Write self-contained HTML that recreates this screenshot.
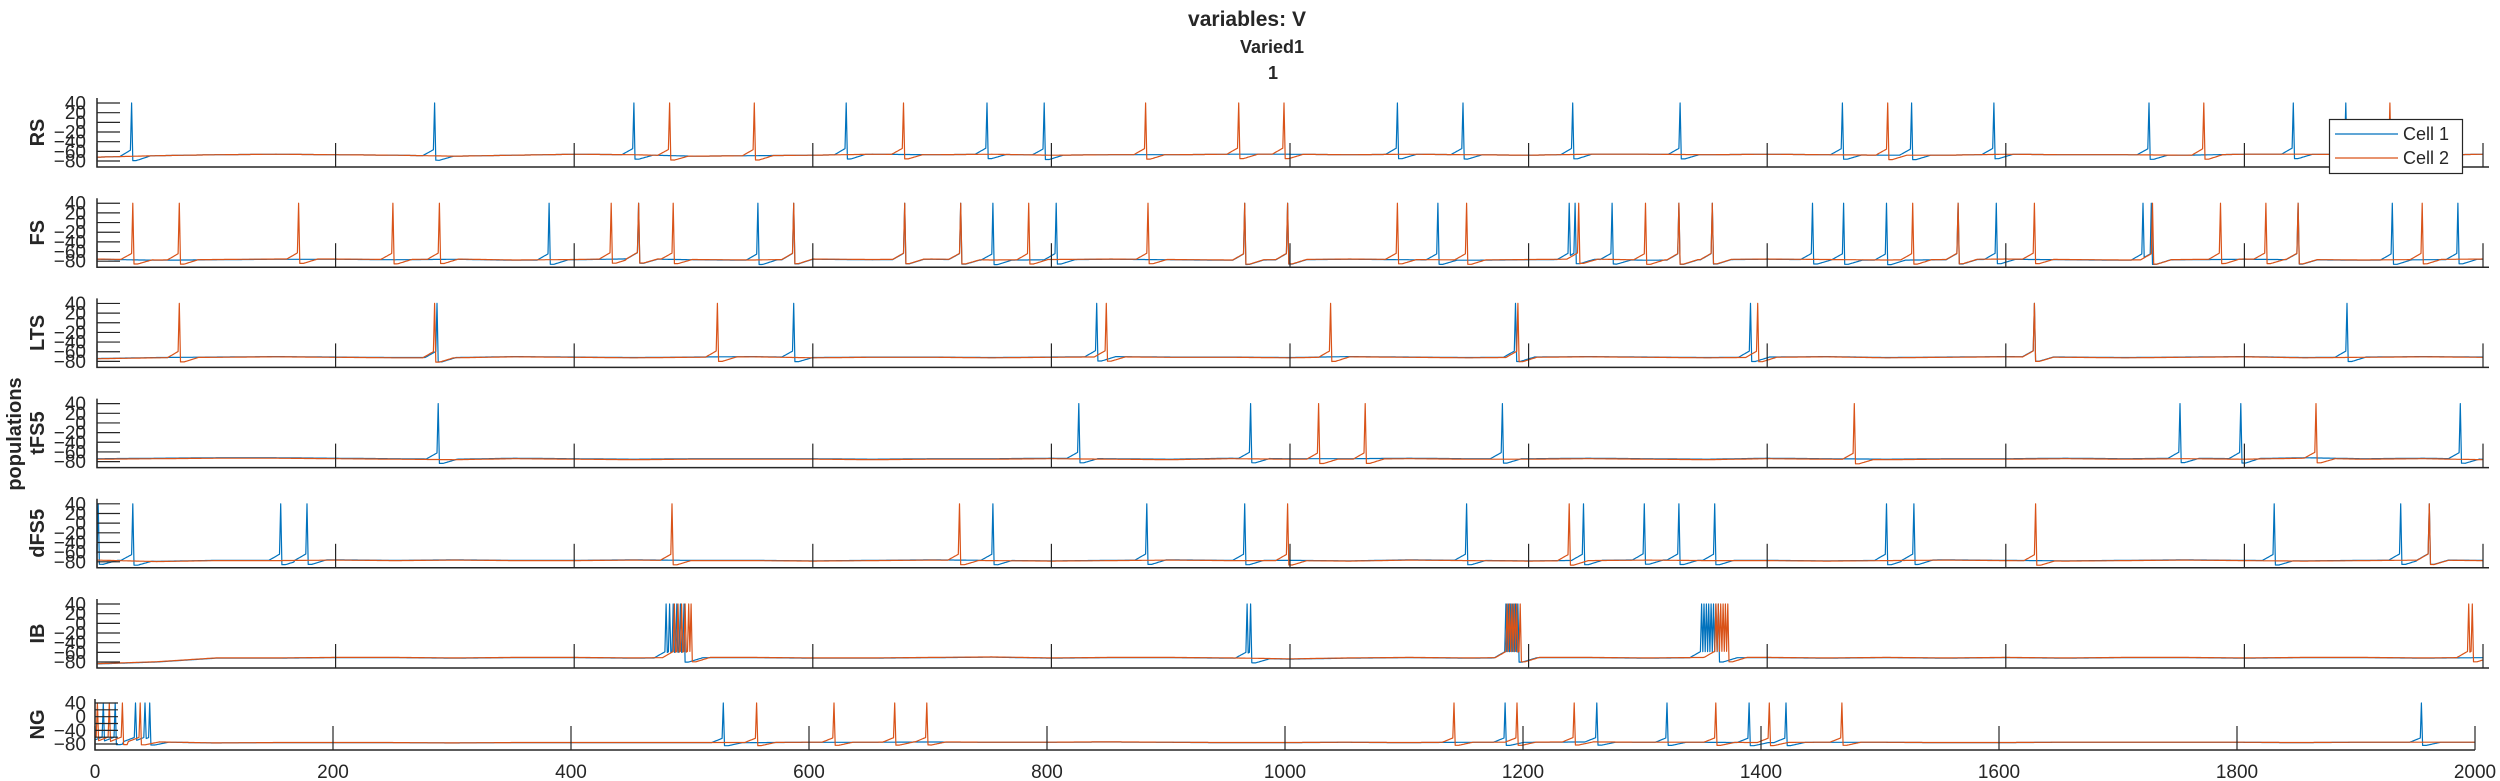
<!DOCTYPE html>
<html><head><meta charset="utf-8"><title>variables: V</title>
<style>
html,body{margin:0;padding:0;background:#fff;}
svg{display:block;}
text{font-family:"Liberation Sans",Arial,sans-serif;fill:#262626;}
</style></head>
<body>
<svg id="chart" width="2500" height="781" viewBox="0 0 2500 781" xmlns="http://www.w3.org/2000/svg">
<rect x="0" y="0" width="2500" height="781" fill="#fff"/>
<text x="1247" y="26" text-anchor="middle" font-size="21" font-weight="bold" fill="#000">variables: V</text>
<text x="1272" y="53" text-anchor="middle" font-size="18" font-weight="bold" fill="#000">Varied1</text>
<text x="1273" y="79" text-anchor="middle" font-size="18" font-weight="bold" fill="#000">1</text>
<text transform="translate(21,434) rotate(-90)" text-anchor="middle" font-size="20" font-weight="bold" fill="#000">populations</text>
<g id="panels"></g>
<g id="legend">
  <rect x="2329.5" y="119.5" width="133" height="54" fill="#fff" stroke="#262626" stroke-width="1.2"/>
  <line x1="2335" y1="134" x2="2398" y2="134" stroke="#0072BD" stroke-width="1.3"/>
  <text x="2403" y="140" font-size="18" fill="#000">Cell 1</text>
  <line x1="2335" y1="158" x2="2398" y2="158" stroke="#D95319" stroke-width="1.3"/>
  <text x="2403" y="164" font-size="18" fill="#000">Cell 2</text>
</g>
</svg>
<script>
// ---- data ----
const populations = ["RS","FS","LTS","tFS5","dFS5","IB","NG"];
const xTicks = [0,200,400,600,800,1000,1200,1400,1600,1800,2000];
const yTicksUpper = [40,20,0,-20,-40,-60,-80];
const yTicksNG = [40,0,-40,-80];
// baseline membrane potential every 50 ms (0..2000)
const baseRS  = [-72,-69,-67,-66,-67,-68,-70,-68,-66,-67,-70,-69,-68,-66,-67,-66,-68,-67,-67,-66,-66,-67,-66,-67,-68,-66,-66,-67,-66,-67,-68,-68,-66,-67,-67,-68,-66,-66,-67,-68,-66];
const baseFS  = [-76,-78,-77,-76,-76,-77,-76,-78,-77,-75,-77,-78,-76,-77,-76,-78,-77,-76,-77,-78,-77,-76,-77,-78,-77,-76,-78,-77,-76,-77,-78,-77,-76,-77,-78,-77,-76,-77,-78,-77,-76];
const baseLTS = [-74,-72,-71,-70,-71,-72,-72,-70,-71,-72,-71,-70,-72,-71,-71,-72,-71,-70,-71,-71,-72,-70,-71,-72,-71,-70,-71,-72,-71,-70,-72,-71,-70,-71,-72,-71,-70,-72,-71,-70,-71];
const baseTFS = [-74,-73,-72,-72,-73,-74,-75,-73,-74,-75,-74,-74,-74,-75,-74,-74,-73,-74,-75,-73,-74,-74,-73,-74,-74,-73,-74,-75,-73,-74,-75,-74,-74,-73,-74,-73,-74,-72,-74,-73,-75];
const baseDFS = [-76,-79,-77,-77,-76,-77,-76,-77,-77,-76,-77,-77,-78,-77,-76,-77,-78,-77,-76,-77,-77,-78,-76,-77,-78,-77,-76,-77,-77,-78,-77,-76,-77,-78,-77,-76,-77,-78,-77,-76,-77];
const baseIB  = [-84,-80,-72,-72,-71,-71,-72,-71,-71,-72,-71,-71,-72,-72,-71,-70,-72,-71,-71,-72,-74,-72,-71,-72,-71,-71,-72,-71,-71,-72,-71,-72,-71,-72,-71,-71,-72,-71,-71,-72,-71];
const baseNG  = [-72,-74,-77,-76,-76,-76,-77,-76,-76,-76,-76,-76,-75,-75,-74,-75,-75,-74,-75,-76,-76,-75,-76,-75,-75,-74,-75,-75,-76,-75,-75,-76,-76,-75,-75,-75,-75,-76,-75,-75,-75];
const cell2Offset = [0,0.5,-0.5,-1,-0.5,0.5,0.3];
// spike times (ms)
const spikesRS1  = [29,283,450,628,746,794,1145,1090,1237,1327,1463,1521,1590,1720,1841,1885];
const spikesRS2  = [480,551,676,879,957,995,1501,1766,1922];
const spikesFS1  = [379,454,554,584,677,724,751,804,962,998,1124,1234,1239,1270,1326,1354,1438,1464,1500,1560,1592,1715,1722,1845,1924,1979];
const spikesFS2  = [30,69,169,248,287,431,454,483,584,677,724,781,881,962,998,1090,1148,1242,1298,1326,1354,1522,1560,1624,1723,1780,1818,1845,1949];
const spikesLTS1 = [285,584,838,1189,1386,1624,1886];
const spikesLTS2 = [69,283,520,846,1034,1191,1392,1624];
const spikesTFS1 = [286,823,967,1178,1746,1797,1981];
const spikesTFS2 = [1024,1063,1473,1860];
const spikesDFS1 = [1,30,154,176,751,880,962,1148,1246,1297,1326,1356,1500,1523,1825,1931,1955];
const spikesDFS2 = [482,723,998,1234,1625,1955];
const spikesIB1  = [477,480,483,486,489,492,964,967,1181,1183,1185,1187,1189,1191,1345,1347,1349,1351,1353,1355,1357,1359];
const spikesIB2  = [484,487,490,493,496,498,1182,1184,1186,1188,1190,1193,1357,1359,1361,1363,1365,1367,1988,1991];
const spikesNG1  = [7,17,34,42,46,528,1185,1262,1321,1390,1421,1955];
const spikesNG2  = [2,12,23,38,556,621,672,699,1142,1195,1243,1362,1407,1468];

const baselines = [baseRS,baseFS,baseLTS,baseTFS,baseDFS,baseIB,baseNG];
const spikes1 = [spikesRS1,spikesFS1,spikesLTS1,spikesTFS1,spikesDFS1,spikesIB1,spikesNG1];
const spikes2 = [spikesRS2,spikesFS2,spikesLTS2,spikesTFS2,spikesDFS2,spikesIB2,spikesNG2];

// ---- layout ----
const NS = "http://www.w3.org/2000/svg";
const root = document.getElementById("panels");
function mk(tag, attrs, parent){
  const e = document.createElementNS(NS, tag);
  for (const k in attrs) e.setAttribute(k, attrs[k]);
  parent.appendChild(e);
  return e;
}
const panelTops = [98,198.2,298.4,398.6,498.8,599,699];
const panelBottoms = [167,267.2,367.4,467.6,567.8,668,750];

function buildTrace(base, spk, off){
  const v = [];
  for (let t = 0; t <= 2000; t++){
    const i = Math.min(39, Math.floor(t/50));
    const f = (t - i*50)/50;
    v.push(base[i]*(1-f) + base[i+1]*f + off);
  }
  const out = v.slice();
  spk.forEach(s => {
    for (let t = Math.max(0,s-10); t < s; t++) out[t] = Math.max(out[t], v[t] + 14*(1-(s-t)/10));
    for (let t = s+1; t <= Math.min(2000,s+16); t++){
      const d = t - s;
      const dip = d <= 4 ? -9 : -9*(1-(d-4)/12);
      out[t] = Math.min(out[t], v[t] + dip);
    }
  });
  spk.forEach(s => { if (s>=0 && s<=2000) out[s] = 40; });
  return out;
}

populations.forEach((name, p) => {
  const isNG = p === 6;
  const g = mk("g", {}, root);
  
  
  const top = panelTops[p], bot = panelBottoms[p];
  const x0 = isNG ? 95 : 97, kx = isNG ? 1.19 : 1.193;
  const yMin = isNG ? -97.5 : -92.4, yMax = isNG ? 51.7 : 50.4;
  const xs = t => x0 + t*kx;
  const ys = v => bot - (Math.min(yMax, Math.max(yMin, v)) - yMin) * (bot-top)/(yMax-yMin);
  const xEnd = xs(2000) + (isNG ? 0 : 6);

  // traces
  [1,2].forEach(c => {
    const tr = buildTrace(baselines[p], c===1 ? spikes1[p] : spikes2[p], c===1 ? 0 : cell2Offset[p]);
    let d = "";
    for (let t = 0; t <= 2000; t++) d += (t ? " L" : "M") + xs(t).toFixed(1) + " " + ys(tr[t]).toFixed(1);
    const path = mk("path", {d: d, fill: "none", stroke: c===1 ? "#0072BD" : "#D95319", "stroke-width": 1.2, "stroke-linejoin": "round"}, g);
    
    
  });

  // axes
  const ax = mk("path", {d: `M${x0} ${top} L${x0} ${bot} L${xEnd} ${bot}`, fill: "none", stroke: "#262626", "stroke-width": 1.5}, g);
  
  
  xTicks.forEach(t => {
    const tk = mk("line", {x1: xs(t), x2: xs(t), y1: bot, y2: bot-24, stroke: "#262626", "stroke-width": 1.2}, g);
    
    
    if (isNG){
      const lb = mk("text", {x: xs(t), y: 778, "text-anchor": "middle", "font-size": 19}, g);
      lb.textContent = t;
      
      
    }
  });
  yTicksUpper.forEach(v => {
    const tk = mk("line", {x1: x0, x2: x0+23, y1: ys(v), y2: ys(v), stroke: "#262626", "stroke-width": 1.2}, g);
    
    
  });
  (isNG ? yTicksNG : yTicksUpper).forEach(v => {
    const lb = mk("text", {x: 86, y: ys(v)+6.5, "text-anchor": "end", "font-size": 19}, g);
    lb.textContent = v < 0 ? "\u2212" + Math.abs(v) : String(v);
    
    
  });
  const pl = mk("text", {transform: `translate(44,${(top+bot)/2}) rotate(-90)`, "text-anchor": "middle", "font-size": 20, "font-weight": "bold", fill: "#000"}, g);
  pl.textContent = name;
  
  
});
// keep legend on top
document.getElementById("chart").appendChild(document.getElementById("legend"));
</script>
</body></html>
